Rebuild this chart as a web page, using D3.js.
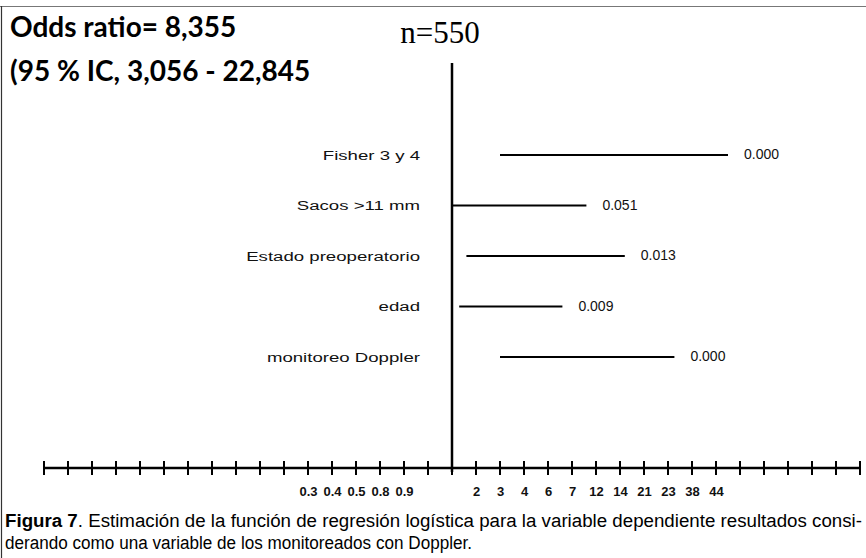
<!DOCTYPE html>
<html><head><meta charset="utf-8">
<script src="https://cdn.jsdelivr.net/npm/d3@7"></script>
<style>
html,body{margin:0;padding:0;background:#fff;}
svg{display:block;}
</style></head>
<body>
<svg id="chart" width="866" height="558"></svg>
<script>
// ---- data ----
const categories = ["Fisher 3 y 4", "Sacos >11 mm", "Estado preoperatorio", "edad", "monitoreo  Doppler"];
const ciLower = [3, 1, 1.6, 1.3, 3.0];
const ciUpper = [47, 10, 15.4, 6.6, 27];
const pValues = ["0.000", "0.051", "0.013", "0.009", "0.000"];
const orTicks = [0.3, 0.4, 0.5, 0.8, 0.9, 1, 2, 3, 4, 6, 7, 12, 14, 21, 23, 38, 44];
const tickLabels = ["0.3", "0.4", "0.5", "0.8", "0.9", "", "2", "3", "4", "6", "7", "12", "14", "21", "23", "38", "44"];
const titleLines = ["Odds ratio= 8,355", "(95 % IC, 3,056 - 22,845"];
const nLabel = "n=550";
const captionBold = "Figura 7";
const captionLine1 = ". Estimación de la función de regresión logística para la variable dependiente resultados consi-";
const captionLine2 = "derando como una variable de los monitoreados con Doppler.";

// ---- layout ----
const W = 866, H = 558;
const nSlots = 34;
const axisY = 468;
const svg = d3.select("#chart");

// slot scale: evenly spaced tick marks
const slotX = d3.scaleLinear().domain([0, nSlots]).range([44, 860]);
// piecewise OR -> slot scale (labels occupy consecutive slots, 1 = reference)
const orSlot = d3.scaleLinear()
  .domain(orTicks)
  .range(orTicks.map((v, i) => i < 5 ? 11 + i : 12 + i));
const x = v => slotX(orSlot(v));

const y = d3.scalePoint().domain(categories).range([155, 357]);

// frame
svg.append("line").attr("x1", 0).attr("x2", W).attr("y1", 6.5).attr("y2", 6.5)
  .attr("stroke", "#777").attr("stroke-width", 1.2);
svg.append("line").attr("x1", 1.5).attr("x2", 1.5).attr("y1", 6).attr("y2", H)
  .attr("stroke", "#333").attr("stroke-width", 1.2);

// titles
svg.selectAll("text.title").data(titleLines).join("text")
  .attr("class", "title")
  .attr("x", 10).attr("y", (d, i) => 37 + i * 44)
  .attr("font-family", "Lato, 'Open Sans', sans-serif")
  .attr("font-weight", "bold").attr("font-size", 28)
  .attr("fill", "#000").text(d => d);

svg.append("text").attr("x", x(1) - 12).attr("y", 43)
  .attr("text-anchor", "middle")
  .attr("font-family", "'Liberation Serif', 'DejaVu Serif', serif")
  .attr("font-size", 31).attr("fill", "#000").text(nLabel);

// reference line at OR = 1
svg.append("line").attr("x1", x(1)).attr("x2", x(1)).attr("y1", 63).attr("y2", axisY + 4)
  .attr("stroke", "#000").attr("stroke-width", 2.5);

// axis line
svg.append("line").attr("x1", slotX(0)).attr("x2", slotX(nSlots)).attr("y1", axisY).attr("y2", axisY)
  .attr("stroke", "#000").attr("stroke-width", 2.5);
// tick marks crossing the axis
svg.selectAll("line.tick").data(d3.range(nSlots + 1)).join("line")
  .attr("class", "tick")
  .attr("x1", d => slotX(d)).attr("x2", d => slotX(d))
  .attr("y1", axisY - 7).attr("y2", axisY + 7)
  .attr("stroke", "#000").attr("stroke-width", 2);

// tick labels through a d3 axis
const axisG = svg.append("g").attr("transform", `translate(0,${axisY + 16})`);
const ax = d3.axisBottom(slotX)
  .tickValues(orTicks.map(v => orSlot(v)))
  .tickSize(0)
  .tickFormat((d, i) => tickLabels[i]);
axisG.call(ax);
axisG.select(".domain").remove();
axisG.selectAll("text")
  .attr("font-family", "'Liberation Sans', Arial, sans-serif")
  .attr("font-weight", "bold").attr("font-size", 13).attr("fill", "#111");

// CI lines
const rows = categories.map((c, i) => ({c, lo: ciLower[i], hi: ciUpper[i], p: pValues[i]}));
svg.selectAll("line.ci").data(rows).join("line")
  .attr("class", "ci")
  .attr("x1", d => x(d.lo)).attr("x2", d => x(d.hi))
  .attr("y1", d => y(d.c)).attr("y2", d => y(d.c))
  .attr("stroke", "#000").attr("stroke-width", 2);

// category labels
svg.selectAll("text.cat").data(rows).join("text")
  .attr("class", "cat")
  .attr("x", 420).attr("y", d => y(d.c) + 5)
  .attr("text-anchor", "end")
  .attr("font-family", "'Liberation Sans', Arial, sans-serif")
  .attr("font-size", 13.5).attr("fill", "#111")
  .attr("transform", `translate(420,0) scale(1.38,1) translate(-420,0)`)
  .text(d => d.c);

// p-values
svg.selectAll("text.pv").data(rows).join("text")
  .attr("class", "pv")
  .attr("x", d => x(d.hi) + 16).attr("y", d => y(d.c) + 4)
  .attr("font-family", "'Liberation Sans', Arial, sans-serif")
  .attr("font-size", 14).attr("fill", "#111")
  .text(d => d.p);

// caption
const capFont = "'Liberation Sans Narrow', 'Liberation Sans', Arial, sans-serif";
const cap = svg.append("text").attr("x", 5).attr("y", 527)
  .attr("font-family", capFont)
  .attr("font-size", 18).attr("fill", "#000")
  .attr("textLength", 857).attr("lengthAdjust", "spacingAndGlyphs");
cap.append("tspan").attr("font-weight", "bold").text(captionBold);
cap.append("tspan").text(captionLine1);
svg.append("text").attr("x", 5).attr("y", 549)
  .attr("font-family", capFont)
  .attr("font-size", 18).attr("fill", "#000")
  .attr("textLength", 467).attr("lengthAdjust", "spacingAndGlyphs")
  .text(captionLine2);
</script>
</body></html>
